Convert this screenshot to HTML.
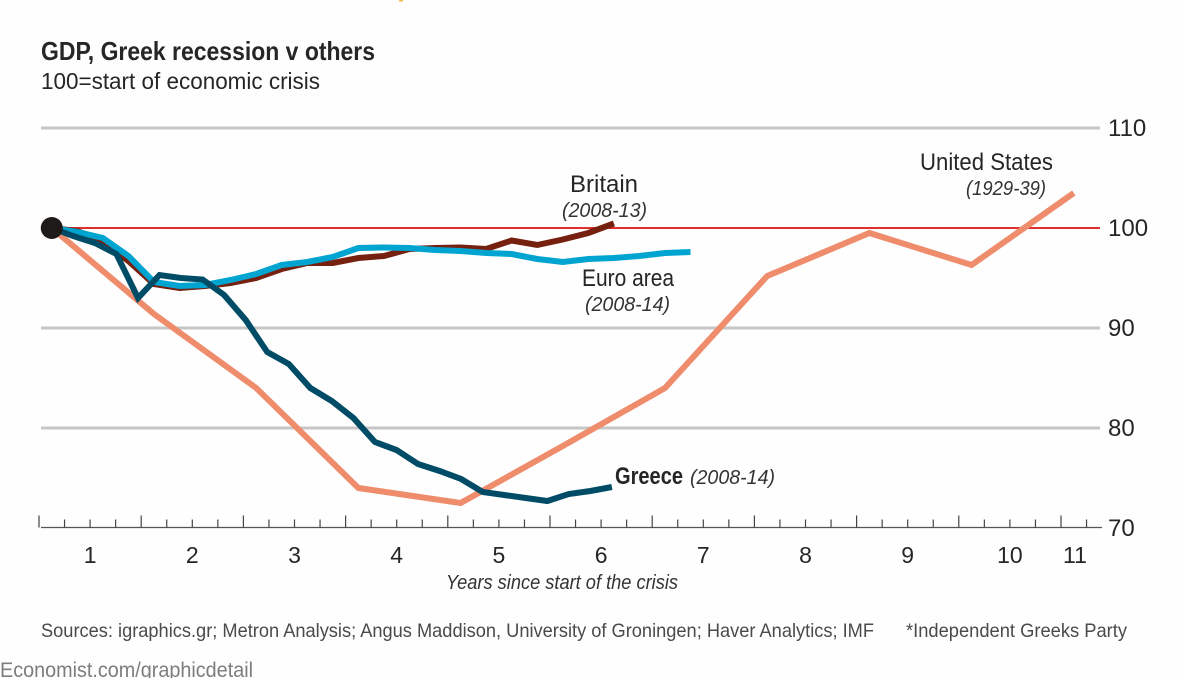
<!DOCTYPE html>
<html lang="en">
<head>
<meta charset="utf-8">
<title>GDP, Greek recession v others</title>
<style>
html,body{margin:0;padding:0;background:#fefefe;width:1184px;height:678px;overflow:hidden}
svg{display:block}
text{font-family:"Liberation Sans",sans-serif;fill:#262626}
.it{font-style:italic;font-size:20px;fill:#333}
.lab{font-size:24px}
.src{font-size:19.5px;fill:#4a4a4a}
</style>
</head>
<body>
<svg id="chart" xmlns="http://www.w3.org/2000/svg" width="1184" height="678" viewBox="0 0 1184 678">
  <rect x="399" y="0" width="4" height="1.5" fill="#f5b942"/>
  <text x="41" y="60" font-size="26" font-weight="bold" textLength="334" lengthAdjust="spacingAndGlyphs">GDP, Greek recession v others</text>
  <text x="41" y="89" font-size="23" textLength="279" lengthAdjust="spacingAndGlyphs">100=start of economic crisis</text>

  <g id="grid"></g>
  <g id="yticks"></g>
  <g id="xaxis"></g>
  <g id="series"></g>

  <text class="lab" x="570" y="192" textLength="68" lengthAdjust="spacingAndGlyphs">Britain</text>
  <text class="it" x="562" y="217" textLength="85" lengthAdjust="spacingAndGlyphs">(2008-13)</text>
  <text class="lab" x="582" y="286" textLength="92" lengthAdjust="spacingAndGlyphs">Euro area</text>
  <text class="it" x="585" y="311" textLength="85" lengthAdjust="spacingAndGlyphs">(2008-14)</text>
  <text class="lab" x="920" y="170" textLength="133" lengthAdjust="spacingAndGlyphs">United States</text>
  <text class="it" x="966" y="195" textLength="80" lengthAdjust="spacingAndGlyphs">(1929-39)</text>
  <text x="615" y="484" font-size="24" font-weight="bold" fill="#222" textLength="68" lengthAdjust="spacingAndGlyphs">Greece</text>
  <text class="it" x="690" y="484" textLength="85" lengthAdjust="spacingAndGlyphs">(2008-14)</text>

  <text class="it" x="446" y="589" textLength="232" lengthAdjust="spacingAndGlyphs">Years since start of the crisis</text>
  <text class="src" x="41" y="637" textLength="833" lengthAdjust="spacingAndGlyphs">Sources: igraphics.gr; Metron Analysis; Angus Maddison, University of Groningen; Haver Analytics; IMF</text>
  <text class="src" x="906" y="637" textLength="221" lengthAdjust="spacingAndGlyphs">*Independent Greeks Party</text>
  <text x="0" y="677" font-size="21" style="fill:#7d7d7d" textLength="253" lengthAdjust="spacingAndGlyphs">Economist.com/graphicdetail</text>
</svg>
<script>
var yTickValues = [110, 100, 90, 80, 70];
var xTickLabels = ["1", "2", "3", "4", "5", "6", "7", "8", "9", "10", "11"];
var quarterTickCount = 42;
var startYear = 0.125;
var usStepYears = 1;
var quarterStepYears = 0.25;
var greeceStepYears = 0.2108;
var usValues = [100, 91.4, 84, 74, 72.5, 78.2, 84, 95.2, 99.5, 96.3, 103.5];
var britainValues = [100, 99.7, 98.7, 96.7, 94.4, 94, 94.2, 94.5, 95, 95.9, 96.5, 96.5, 97, 97.2, 97.9, 98, 98.05, 97.9, 98.75, 98.3, 98.85, 99.5, 100.45];
var euroValues = [100, 99.6, 99, 97.2, 94.6, 94.2, 94.3, 94.8, 95.4, 96.3, 96.6, 97.1, 98, 98.05, 98, 97.8, 97.7, 97.5, 97.4, 96.9, 96.6, 96.9, 97, 97.2, 97.5, 97.6];
var greeceValues = [100, 99.2, 98.5, 97.4, 93, 95.3, 95, 94.85, 93.3, 90.8, 87.6, 86.4, 84, 82.7, 81, 78.6, 77.8, 76.4, 75.7, 74.9, 73.6, 73.3, 73, 72.7, 73.4, 73.7, 74.1];

var NS = 'http://www.w3.org/2000/svg';
function xScale(years) { return 39 + 102.2 * years; }
function yScale(v) { return 228 + (100 - v) * 10; }
function make(tag, attrs, parent) {
  var el = document.createElementNS(NS, tag);
  for (var k in attrs) el.setAttribute(k, attrs[k]);
  parent.appendChild(el);
  return el;
}
var gridG = document.getElementById('grid');
var yG = document.getElementById('yticks');
var xG = document.getElementById('xaxis');
var sG = document.getElementById('series');

yTickValues.forEach(function (v) {
  if (v !== 100 && v !== 70) {
    var gl = make('line', {x1: 41, x2: 1100, y1: yScale(v), y2: yScale(v), stroke: '#c6c6c6', 'stroke-width': 3}, gridG);
    
    
  }
  var t = make('text', {x: 1108, y: yScale(v) + 8, 'font-size': 24}, yG);
  
  
  t.textContent = String(v);
});
var base = make('line', {x1: 41, x2: 1100, y1: yScale(100), y2: yScale(100), stroke: '#e02f2f', 'stroke-width': 2}, gridG);



var axisY = yScale(70) - 0.5;
var axisLine = make('line', {x1: 41, x2: 1102, y1: axisY, y2: axisY, stroke: '#555', 'stroke-width': 1.2}, xG);


for (var q = 0; q < quarterTickCount; q++) {
  var major = q % 4 === 0;
  var tx = xScale(q * quarterStepYears);
  var tick = make('line', {x1: tx, x2: tx, y1: axisY - (major ? 12 : 8), y2: axisY, stroke: '#444', 'stroke-width': 1.2}, xG);
  
  
}
xTickLabels.forEach(function (label, i) {
  var lx = Math.min(xScale(i + 0.5), 1075);
  var t = make('text', {x: lx, y: 563, 'font-size': 23, 'text-anchor': 'middle'}, xG);
  
  
  t.textContent = label;
});

function drawLine(values, step, color) {
  var pts = values.map(function (v, i) {
    return xScale(startYear + i * step).toFixed(1) + ',' + yScale(v).toFixed(1);
  }).join(' ');
  return make('polyline', {points: pts, fill: 'none', stroke: color, 'stroke-width': 6, 'stroke-linejoin': 'miter', 'stroke-miterlimit': 3}, sG);
}
var usLine = drawLine(usValues, usStepYears, '#ef8c6c');


var britainLine = drawLine(britainValues, quarterStepYears, '#76200f');


var euroLine = drawLine(euroValues, quarterStepYears, '#00a4d0');


var greeceLine = drawLine(greeceValues, greeceStepYears, '#004c66');


var dot = make('circle', {cx: xScale(startYear), cy: yScale(100), r: 11, fill: '#1e1a18'}, sG);


</script>
</body>
</html>
